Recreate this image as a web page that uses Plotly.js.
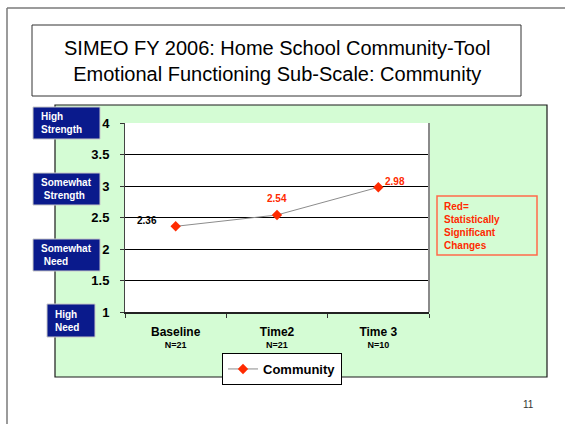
<!DOCTYPE html>
<html>
<head>
<meta charset="utf-8">
<script src="https://cdn.plot.ly/plotly-3.0.1.min.js"></script>
<style>html,body{margin:0;padding:0;background:#fff;}#chart{width:565px;height:424px;}</style>
</head>
<body>
<div id="chart"></div>
<script>
// ---- data ----
const categories = ['Baseline', 'Time2', 'Time 3'];
const sampleSizes = ['N=21', 'N=21', 'N=10'];
const values = [2.36, 2.54, 2.98];
const significant = [false, true, true];
const seriesName = 'Community';
const titleLines = ['SIMEO FY 2006: Home School Community-Tool', 'Emotional Functioning Sub-Scale: Community'];
const scaleLabels = ['High<br>Strength', 'Somewhat<br> Strength', 'Somewhat<br> Need', 'High<br>Need'];
const noteLines = ['Red=', 'Statistically', 'Significant', 'Changes'];
const pageNumber = '11';

// ---- layout helpers ----
const W = 565, H = 424;
const px = x => x / W;
const py = y => 1 - y / H;
const FONT = 'Liberation Sans, Arial, sans-serif';
const RED = '#ff2a00';

const tickText = categories.map((c, i) =>
  '<span style="font-size:12px"><b>' + c + '</b></span><br><b>' + sampleSizes[i] + '</b>');

const trace = {
  type: 'scatter',
  mode: 'lines+markers',
  x: categories,
  y: values,
  name: '<b>' + seriesName + '</b>',
  line: {color: '#8c8c8c', width: 1},
  marker: {symbol: 'diamond', size: 8, color: RED}
};

// data label offsets (position styling only)
const labelShift = [[-29, 6], [0, 16], [17, 6]];
const dataLabels = values.map((v, i) => ({
  x: categories[i], y: v, xref: 'x', yref: 'y',
  text: '<b>' + v.toFixed(2) + '</b>', showarrow: false,
  xshift: labelShift[i][0], yshift: labelShift[i][1],
  font: {family: FONT, size: 10, color: significant[i] ? RED : '#000'}
}));

// navy scale boxes
const boxSpecs = [
  {x0: 33, x1: 100, y0: 107, y1: 139},
  {x0: 33, x1: 100, y0: 173, y1: 205},
  {x0: 33, x1: 100, y0: 239, y1: 271},
  {x0: 47, x1: 95, y0: 304, y1: 337}
];
const NAVY = '#0a1a8c';
const scaleShapes = boxSpecs.map(b => ({
  type: 'rect', xref: 'paper', yref: 'paper',
  x0: px(b.x0), x1: px(b.x1), y0: py(b.y1), y1: py(b.y0),
  fillcolor: NAVY, line: {color: '#c8c8c8', width: 1}, layer: 'above'
}));
const scaleAnns = boxSpecs.map((b, i) => ({
  xref: 'paper', yref: 'paper', x: px(b.x0 + 6), y: py((b.y0 + b.y1) / 2),
  xanchor: 'left', yanchor: 'middle', align: 'left', showarrow: false,
  text: '<b>' + scaleLabels[i] + '</b>',
  font: {family: FONT, size: 10, color: '#fff'}
}));

const layout = {
  width: W, height: H,
  margin: {l: 0, r: 0, t: 0, b: 0},
  paper_bgcolor: '#fff',
  plot_bgcolor: 'rgba(0,0,0,0)',
  showlegend: true,
  legend: {
    x: px(222), y: py(353), xanchor: 'left', yanchor: 'top',
    bgcolor: '#fff', bordercolor: '#000', borderwidth: 1,
    font: {family: FONT, size: 13, color: '#000'},
    itemwidth: 30, tracegroupgap: 0
  },
  xaxis: {
    domain: [px(125), px(429)],
    type: 'category',
    range: [-0.5, categories.length - 0.5], autorange: false,
    tickvals: categories, ticktext: tickText,
    tickson: 'boundaries', ticks: 'outside', ticklen: 4, tickcolor: '#333',
    showline: true, linecolor: '#222', linewidth: 1.5, mirror: false,
    showgrid: false, zeroline: false,
    tickfont: {family: FONT, size: 9, color: '#000'},
    ticklabelstandoff: 12,
    fixedrange: true
  },
  yaxis: {
    domain: [py(312), py(123)],
    range: [1, 4], autorange: false, dtick: 0.5, tick0: 1,
    ticks: 'outside', ticklen: 4, tickcolor: '#333',
    showline: true, linecolor: '#444', linewidth: 1,
    showgrid: true, gridcolor: '#000', gridwidth: 1, zeroline: false,
    tickfont: {family: FONT, size: 13, color: '#000', weight: 'bold'},
    ticklabelstandoff: 8,
    fixedrange: true
  },
  shapes: [
    {type: 'line', xref: 'paper', yref: 'paper', x0: px(7), x1: px(7), y0: py(8), y1: py(424), line: {color: '#7a7a7a', width: 1.5}, layer: 'below'},
    {type: 'line', xref: 'paper', yref: 'paper', x0: px(7), x1: px(565), y0: py(8), y1: py(8), line: {color: '#7a7a7a', width: 1.5}, layer: 'below'},
    {type: 'rect', xref: 'paper', yref: 'paper', x0: px(32), x1: px(521), y0: py(96), y1: py(25), fillcolor: '#fff', line: {color: '#333', width: 1}, layer: 'below'},
    {type: 'rect', xref: 'paper', yref: 'paper', x0: px(55), x1: px(547), y0: py(377), y1: py(105), fillcolor: '#d4fcd4', line: {color: '#1a1a1a', width: 1.2}, layer: 'below'},
    {type: 'rect', xref: 'paper', yref: 'paper', x0: px(125), x1: px(429), y0: py(312), y1: py(123), fillcolor: '#fff', line: {width: 0}, layer: 'below'},
    {type: 'line', xref: 'paper', yref: 'paper', x0: px(429), x1: px(429), y0: py(312), y1: py(123), line: {color: '#8a8a8a', width: 2}, layer: 'above'},
    {type: 'rect', xref: 'paper', yref: 'paper', x0: px(437), x1: px(537), y0: py(255), y1: py(196), fillcolor: 'rgba(0,0,0,0)', line: {color: '#ff6a4a', width: 1.5}, layer: 'above'}
  ].concat(scaleShapes),
  annotations: [
    {xref: 'paper', yref: 'paper', x: px(277), y: py(61), xanchor: 'center', yanchor: 'middle', showarrow: false,
     text: titleLines.join('<br>'), font: {family: FONT, size: 20, color: '#000'}},
    {xref: 'paper', yref: 'paper', x: px(442), y: py(225.5), xanchor: 'left', yanchor: 'middle', align: 'left', showarrow: false,
     text: '<b>' + noteLines.join('<br>') + '</b>', font: {family: FONT, size: 10, color: RED}},
    {xref: 'paper', yref: 'paper', x: px(528), y: py(404), xanchor: 'center', yanchor: 'middle', showarrow: false,
     text: pageNumber, font: {family: FONT, size: 10, color: '#333'}}
  ].concat(dataLabels, scaleAnns)
};

Plotly.newPlot('chart', [trace], layout, {displayModeBar: false, staticPlot: true});
</script>
</body>
</html>
